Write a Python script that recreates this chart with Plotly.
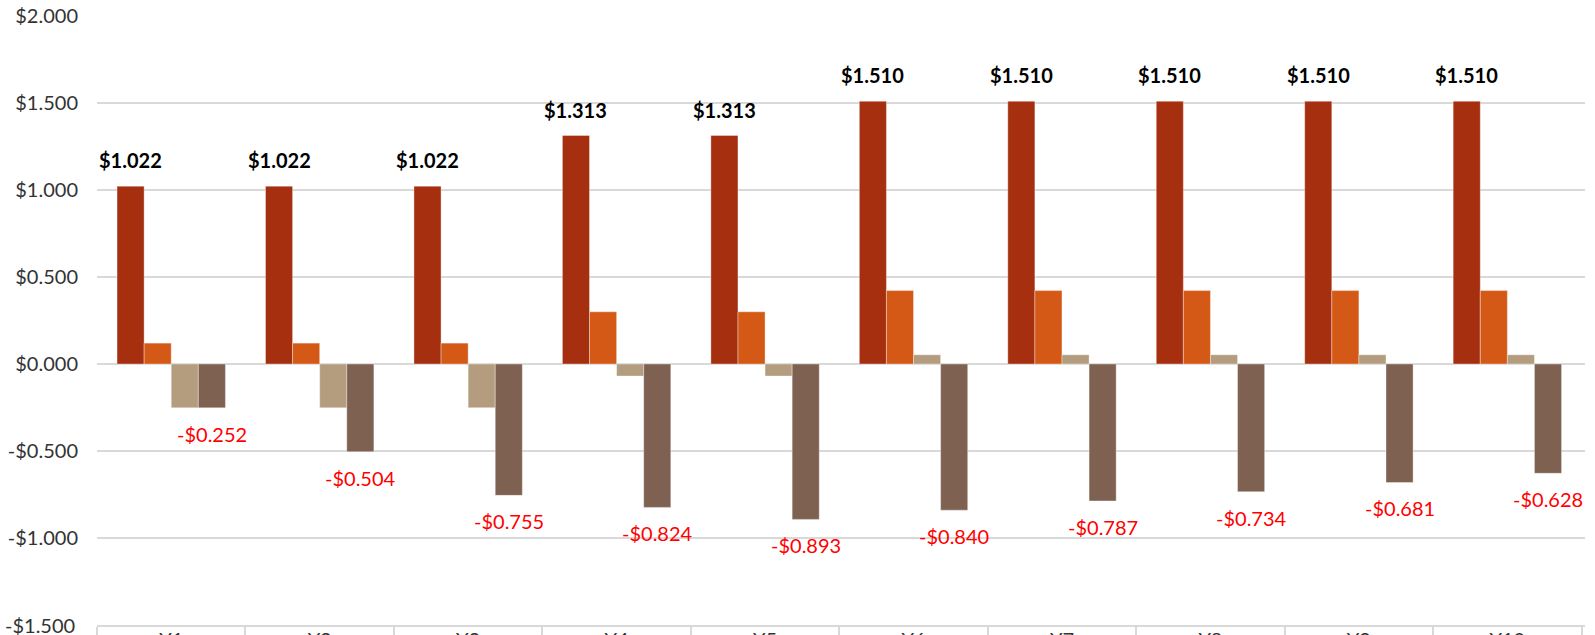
import plotly.graph_objects as go

categories = ["Y1", "Y2", "Y3", "Y4", "Y5", "Y6", "Y7", "Y8", "Y9", "Y10"]
series_a = [1.022, 1.022, 1.022, 1.313, 1.313, 1.510, 1.510, 1.510, 1.510, 1.510]
series_b = [0.120, 0.120, 0.120, 0.300, 0.300, 0.422, 0.422, 0.422, 0.422, 0.422]
series_c = [-0.252, -0.252, -0.251, -0.069, -0.069, 0.053, 0.053, 0.053, 0.053, 0.053]
series_d = [-0.252, -0.504, -0.755, -0.824, -0.893, -0.840, -0.787, -0.734, -0.681, -0.628]
y_ticks = [-1.5, -1.0, -0.5, 0.0, 0.5, 1.0, 1.5, 2.0]
y_tick_text = ["-$1.500", "-$1.000", "-$0.500", "$0.000", "$0.500", "$1.000", "$1.500", "$2.000"]

colors = ["#A52F0F", "#D55916", "#B39D7E", "#7F6152"]
FONT = "Lato, 'Liberation Sans', sans-serif"
BARGAP = 0.27

fig = go.Figure()
for vals, col in zip([series_a, series_b, series_c, series_d], colors):
    fig.add_trace(go.Bar(
        x=categories, y=vals, marker=dict(color=col, line=dict(color="rgba(255,255,255,0.45)", width=0.8)),
        hoverinfo="skip", showlegend=False))

# label positions computed from the bar layout
n = 4
bw = (1 - BARGAP) / n
off_first = -(1 - BARGAP) / 2 + bw / 2
off_last = (1 - BARGAP) / 2 - bw / 2
annotations = []
for i, (va, vd) in enumerate(zip(series_a, series_d)):
    annotations.append(dict(
        x=i + off_first, y=va, xref="x", yref="y", text=f"${va:.3f}", showarrow=False,
        yshift=26, yanchor="middle", font=dict(family=FONT, size=20, color="#000000", weight="bold")))
    annotations.append(dict(
        x=i + off_last, y=vd, xref="x", yref="y", text=f"-${abs(vd):.3f}", showarrow=False,
        yshift=-26, yanchor="middle", font=dict(family=FONT, size=20, color="#FF0000")))

# bottom y tick label (Plotly drops it at the very edge), placed at the axis value
annotations.append(dict(
    x=0, y=y_ticks[0], xref="paper", yref="y", text=y_tick_text[0], showarrow=False,
    xanchor="right", yanchor="middle", xshift=-20, font=dict(family=FONT, size=20, color="#333333")))

fig.update_layout(
    width=1595, height=635,
    margin=dict(l=97, r=10, t=16, b=9.5, autoexpand=False),
    barmode="group", bargap=BARGAP, bargroupgap=0,
    plot_bgcolor="white", paper_bgcolor="white",
    font=dict(family=FONT, size=20, color="#333333"),
    annotations=annotations,
    xaxis=dict(
        showline=True, linecolor="#D9D9D9", linewidth=1.5,
        ticks="outside", tickson="boundaries", ticklen=10, tickcolor="#D9D9D9", tickwidth=1.5,
        ticklabelstandoff=-4,
        showgrid=False, tickfont=dict(size=20, color="#333333"), automargin=False,
    ),
    yaxis=dict(
        range=[-1.5, 2.0], tickvals=y_ticks[1:], ticktext=y_tick_text[1:],
        showgrid=True, gridcolor="#D9D9D9", gridwidth=1.5,
        zeroline=True, zerolinecolor="#D9D9D9", zerolinewidth=1.5,
        showline=False, ticks="", ticklabelstandoff=18,
        tickfont=dict(size=20, color="#333333"), automargin=False,
    ),
)

fig.write_html("out.html")
